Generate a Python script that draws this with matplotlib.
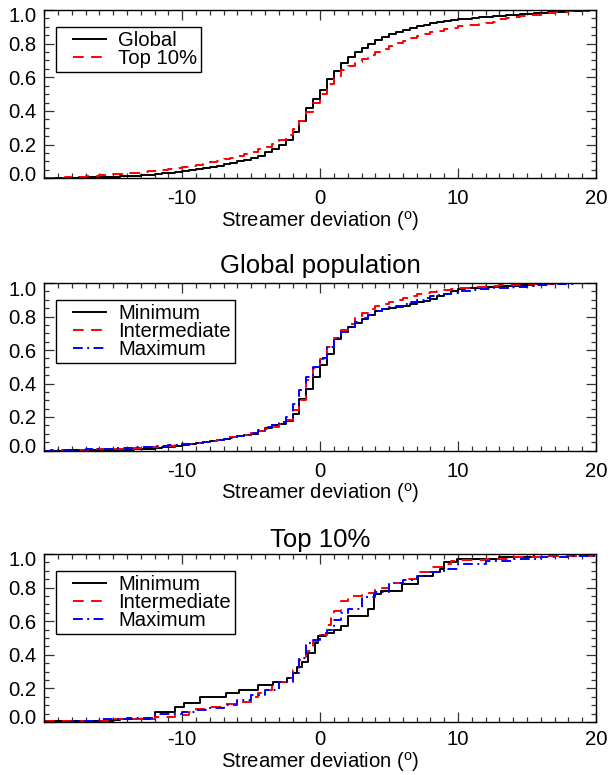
import numpy as np
import matplotlib
matplotlib.use("Agg")
import matplotlib.pyplot as plt
from matplotlib.ticker import MultipleLocator, FixedLocator, FixedFormatter
from matplotlib.transforms import ScaledTranslation
from matplotlib.legend_handler import HandlerLine2D

plt.rcParams['font.family'] = ['Liberation Sans', 'DejaVu Sans']
plt.rcParams['mathtext.fontset'] = 'custom'
plt.rcParams['mathtext.rm'] = 'Liberation Sans'
plt.rcParams['mathtext.it'] = 'Liberation Sans'
plt.rcParams['axes.unicode_minus'] = False

# ---------------------------------------------------------------- data
# Cumulative fractions on a regular 0.5-degree grid from -20 to 20
grid_start, grid_step = -20.0, 0.5

global_all = [
    0.000, 0.001, 0.002, 0.003, 0.004, 0.005, 0.006, 0.007, 0.008, 0.009,
    0.010, 0.012, 0.014, 0.016, 0.019, 0.022, 0.026, 0.030, 0.034, 0.039,
    0.044, 0.049, 0.055, 0.061, 0.068, 0.075, 0.083, 0.091, 0.100, 0.109,
    0.120, 0.135, 0.155, 0.175, 0.198, 0.228, 0.275, 0.340, 0.415, 0.470,
    0.525, 0.590, 0.640, 0.685, 0.720, 0.750, 0.775, 0.800, 0.820, 0.840,
    0.855, 0.870, 0.882, 0.893, 0.903, 0.912, 0.920, 0.927, 0.934, 0.940,
    0.945, 0.949, 0.953, 0.957, 0.960, 0.963, 0.966, 0.969, 0.972, 0.975,
    0.978, 0.981, 0.984, 0.987, 0.989, 0.991, 0.993, 0.995, 0.997, 0.999,
    1.000]
top10_all = [
    0.000, 0.002, 0.004, 0.006, 0.008, 0.010, 0.012, 0.014, 0.017, 0.020,
    0.023, 0.026, 0.030, 0.034, 0.038, 0.042, 0.046, 0.051, 0.056, 0.062,
    0.068, 0.074, 0.080, 0.087, 0.095, 0.103, 0.112, 0.122, 0.133, 0.145,
    0.158, 0.172, 0.188, 0.206, 0.228, 0.255, 0.290, 0.340, 0.395, 0.450,
    0.500, 0.560, 0.610, 0.645, 0.670, 0.690, 0.710, 0.730, 0.750, 0.770,
    0.787, 0.803, 0.818, 0.832, 0.845, 0.857, 0.868, 0.878, 0.887, 0.895,
    0.902, 0.908, 0.913, 0.918, 0.922, 0.926, 0.945, 0.952, 0.958, 0.963,
    0.968, 0.973, 0.978, 0.982, 0.986, 0.989, 0.992, 0.995, 0.997, 0.999,
    1.000]

glob_min = [
    0.000, 0.000, 0.000, 0.001, 0.001, 0.001, 0.002, 0.002, 0.003, 0.003,
    0.004, 0.005, 0.005, 0.006, 0.007, 0.008, 0.015, 0.018, 0.022, 0.028,
    0.034, 0.040, 0.045, 0.050, 0.056, 0.062, 0.070, 0.078, 0.087, 0.094,
    0.100, 0.115, 0.135, 0.150, 0.158, 0.175, 0.215, 0.310, 0.370, 0.440,
    0.510, 0.575, 0.665, 0.705, 0.735, 0.760, 0.785, 0.810, 0.830, 0.845,
    0.852, 0.858, 0.865, 0.875, 0.885, 0.895, 0.905, 0.920, 0.935, 0.952,
    0.965, 0.968, 0.970, 0.972, 0.975, 0.977, 0.980, 0.982, 0.985, 0.988,
    0.991, 0.995, 0.997, 0.998, 0.999, 0.999, 1.000, 1.000, 1.000, 1.000,
    1.000]
glob_int = [
    0.000, 0.001, 0.002, 0.002, 0.003, 0.004, 0.005, 0.006, 0.007, 0.008,
    0.009, 0.010, 0.011, 0.013, 0.015, 0.018, 0.022, 0.026, 0.029, 0.032,
    0.036, 0.041, 0.046, 0.052, 0.058, 0.064, 0.071, 0.079, 0.087, 0.094,
    0.102, 0.115, 0.128, 0.142, 0.158, 0.185, 0.240, 0.300, 0.420, 0.490,
    0.545, 0.620, 0.670, 0.720, 0.755, 0.790, 0.820, 0.845, 0.865, 0.875,
    0.885, 0.900, 0.912, 0.922, 0.932, 0.938, 0.945, 0.952, 0.958, 0.964,
    0.968, 0.971, 0.974, 0.977, 0.980, 0.983, 0.986, 0.988, 0.990, 0.992,
    0.994, 0.995, 0.996, 0.997, 0.998, 0.998, 0.999, 0.999, 1.000, 1.000,
    1.000]
glob_max = [
    0.000, 0.001, 0.002, 0.003, 0.004, 0.005, 0.006, 0.007, 0.008, 0.010,
    0.012, 0.014, 0.016, 0.018, 0.020, 0.022, 0.025, 0.028, 0.031, 0.033,
    0.036, 0.041, 0.046, 0.051, 0.056, 0.062, 0.069, 0.077, 0.087, 0.095,
    0.105, 0.120, 0.138, 0.152, 0.170, 0.200, 0.280, 0.360, 0.440, 0.500,
    0.550, 0.620, 0.670, 0.710, 0.740, 0.765, 0.790, 0.810, 0.830, 0.845,
    0.855, 0.865, 0.875, 0.888, 0.900, 0.910, 0.920, 0.928, 0.935, 0.943,
    0.950, 0.954, 0.958, 0.962, 0.965, 0.968, 0.971, 0.973, 0.975, 0.979,
    0.983, 0.987, 0.990, 0.992, 0.994, 0.996, 0.997, 0.998, 0.999, 1.000,
    1.000]

# Top 10% subsets: fewer events, so steps sit at irregular positions
top_min_x = [-20, -15, -14.5, -12, -10.5, -9.9, -8.7, -6.8, -5.9, -4.5,
             -3.4, -2.4, -2.0, -1.7, -1.3, -0.85, -0.4, -0.15, 0.4, 1.0,
             1.5, 2.0, 3.5, 3.9, 4.4, 5.9, 7.1, 8.2, 8.7, 9.0,
             9.9, 13.0, 15.5, 20]
top_min_y = [0.005, 0.01, 0.02, 0.06, 0.09, 0.115, 0.15, 0.17, 0.19, 0.22,
             0.24, 0.26, 0.29, 0.33, 0.36, 0.41, 0.47, 0.51, 0.53, 0.55,
             0.57, 0.63, 0.67, 0.76, 0.78, 0.82, 0.87, 0.89, 0.91, 0.95,
             0.97, 0.985, 1.0, 1.0]
top_int_x = [-20, -15, -12, -10.5, -9.5, -9, -8, -7, -6, -5,
             -4.5, -4, -3.5, -3, -2.5, -2, -1.5, -1, -0.5, 0,
             0.5, 0.8, 1.0, 1.5, 2, 3, 4, 5, 6, 7,
             8, 9, 9.5, 10, 12, 14, 16, 18, 20]
top_int_y = [0.005, 0.015, 0.03, 0.04, 0.06, 0.075, 0.09, 0.105, 0.12, 0.15,
             0.17, 0.19, 0.215, 0.24, 0.26, 0.31, 0.37, 0.42, 0.48, 0.52,
             0.58, 0.62, 0.66, 0.72, 0.75, 0.77, 0.80, 0.83, 0.85, 0.89,
             0.92, 0.94, 0.96, 0.965, 0.97, 0.985, 0.99, 0.99, 1.0]
top_max_x = [-20, -18, -16, -14, -12, -10.5, -10, -9, -8, -7,
             -6, -5, -4, -3, -2, -1.5, -1, -0.5, 0, 0.5,
             1, 1.5, 2, 3, 4, 5, 6, 7, 8, 9,
             10, 12, 14, 16, 18, 20]
top_max_y = [0.0, 0.005, 0.02, 0.025, 0.045, 0.05, 0.06, 0.07, 0.085, 0.10,
             0.13, 0.16, 0.19, 0.24, 0.29, 0.38, 0.47, 0.49, 0.52, 0.55,
             0.61, 0.65, 0.67, 0.745, 0.775, 0.825, 0.845, 0.87, 0.89, 0.91,
             0.94, 0.96, 0.97, 0.985, 0.99, 1.0]

xtick_vals = [-10, 0, 10, 20]
xtick_text = ['-10', '0', '10', '20']
ytick_vals = [0.0, 0.2, 0.4, 0.6, 0.8, 1.0]
ytick_text = ['0.0', '0.2', '0.4', '0.6', '0.8', '1.0']

panel_titles = [None, 'Global population', 'Top 10%']
xlabel_text = r'Streamer deviation ($^{\rm o}$)'


def grid_x(values):
    assert len(values) == 81
    return grid_start + grid_step * np.arange(len(values))


# ---------------------------------------------------------------- figure
W, H = 612, 775
fig = plt.figure(figsize=(W / 100, H / 100), dpi=100)
PX = 72 / 100  # points per pixel

FS = 14.6
left_px, right_px = 44.3, 596.0
panel_px = [(10.0, 178.3), (283.0, 450.5), (554.0, 722.0)]


class InsetLine(HandlerLine2D):
    """Legend line that leaves a blank gap on its left side."""

    def __init__(self, inset, **kw):
        super().__init__(**kw)
        self.inset = inset

    def create_artists(self, legend, orig_handle, xdescent, ydescent,
                       width, height, fontsize, trans):
        return super().create_artists(legend, orig_handle,
                                      xdescent - self.inset, ydescent,
                                      width - self.inset, height,
                                      fontsize, trans)


def make_axes(top, bottom):
    return fig.add_axes([left_px / W, 1 - bottom / H,
                         (right_px - left_px) / W, (bottom - top) / H])


def style_axes(ax, xtick_pad=8, xlabel_pad=0.2):
    ax.set_xlim(-20, 20)
    ax.set_ylim(0, 1)
    ax.xaxis.set_major_locator(FixedLocator(xtick_vals))
    ax.xaxis.set_major_formatter(FixedFormatter(xtick_text))
    ax.yaxis.set_major_locator(FixedLocator(ytick_vals))
    ax.yaxis.set_major_formatter(FixedFormatter(ytick_text))
    ax.xaxis.set_minor_locator(MultipleLocator(1))
    ax.yaxis.set_minor_locator(MultipleLocator(0.05))
    ax.tick_params(which='both', direction='in', top=True, right=True,
                   color='#333333', width=0.9)
    ax.tick_params(which='major', length=7)
    ax.tick_params(which='minor', length=3.5)
    ax.tick_params(axis='x', which='major', labelsize=FS, pad=xtick_pad)
    ax.tick_params(axis='y', which='major', labelsize=FS, pad=5.5)
    for sp in ax.spines.values():
        sp.set_linewidth(1.0)
    ax.set_xlabel(xlabel_text, fontsize=FS, labelpad=xlabel_pad)
    # keep the end labels inside the frame height
    labels = ax.get_yticklabels()
    labels[0].set_transform(labels[0].get_transform()
                            + ScaledTranslation(0, 5 / 100, fig.dpi_scale_trans))
    labels[-1].set_transform(labels[-1].get_transform()
                             + ScaledTranslation(0, -5 / 100, fig.dpi_scale_trans))


def add_legend(ax, handles, labels, top_axes_px, bottom_axes_px):
    ax_h = bottom_axes_px - top_axes_px
    anchor_x = (56 - left_px) / (right_px - left_px)
    anchor_y = 1 - 16.7 / ax_h
    inset_pt = 13 * PX
    leg = ax.legend(handles, labels, loc='upper left',
                    bbox_to_anchor=(anchor_x, anchor_y), fontsize=FS,
                    frameon=True, fancybox=False, shadow=False,
                    framealpha=1, edgecolor='black', borderpad=0.2,
                    labelspacing=-0.05, handlelength=46 * PX / FS,
                    handletextpad=12 * PX / FS, borderaxespad=0,
                    handler_map={h: InsetLine(inset_pt) for h in handles})
    leg.get_frame().set_linewidth(1.0)
    return leg


LW = 1.4
black = dict(color='black', lw=LW, linestyle='-')
red = dict(color='#ff0000', lw=LW, linestyle=(0, (5.5, 3.8)))
blue = dict(color='#0000ff', lw=LW, linestyle=(0, (5, 2.3, 1, 2.3)))

# Panel 1: all streamers vs top 10%
ax1 = make_axes(*panel_px[0])
h1, = ax1.step(grid_x(global_all), global_all, where='post', **black)
h2, = ax1.step(grid_x(top10_all), top10_all, where='post', **red)
style_axes(ax1)
add_legend(ax1, [h1, h2], ['Global', 'Top 10%'], *panel_px[0])

# Panel 2: global population split by activity level
ax2 = make_axes(*panel_px[1])
g1, = ax2.step(grid_x(glob_min), glob_min, where='post', **black)
g2, = ax2.step(grid_x(glob_int), glob_int, where='post', **red)
g3, = ax2.step(grid_x(glob_max), glob_max, where='post', **blue)
style_axes(ax2)
ax2.set_title(panel_titles[1], fontsize=18.5, pad=7)
add_legend(ax2, [g1, g2, g3], ['Minimum', 'Intermediate', 'Maximum'],
           *panel_px[1])

# Panel 3: top 10% split by activity level
ax3 = make_axes(*panel_px[2])
t1, = ax3.step(top_min_x, top_min_y, where='post', **black)
t2, = ax3.step(top_int_x, top_int_y, where='post', **red)
t3, = ax3.step(top_max_x, top_max_y, where='post', **blue)
style_axes(ax3, xtick_pad=6, xlabel_pad=0.2)
ax3.set_title(panel_titles[2], fontsize=18.5, pad=5)
add_legend(ax3, [t1, t2, t3], ['Minimum', 'Intermediate', 'Maximum'],
           *panel_px[2])

fig.savefig('out.png', dpi=100)
